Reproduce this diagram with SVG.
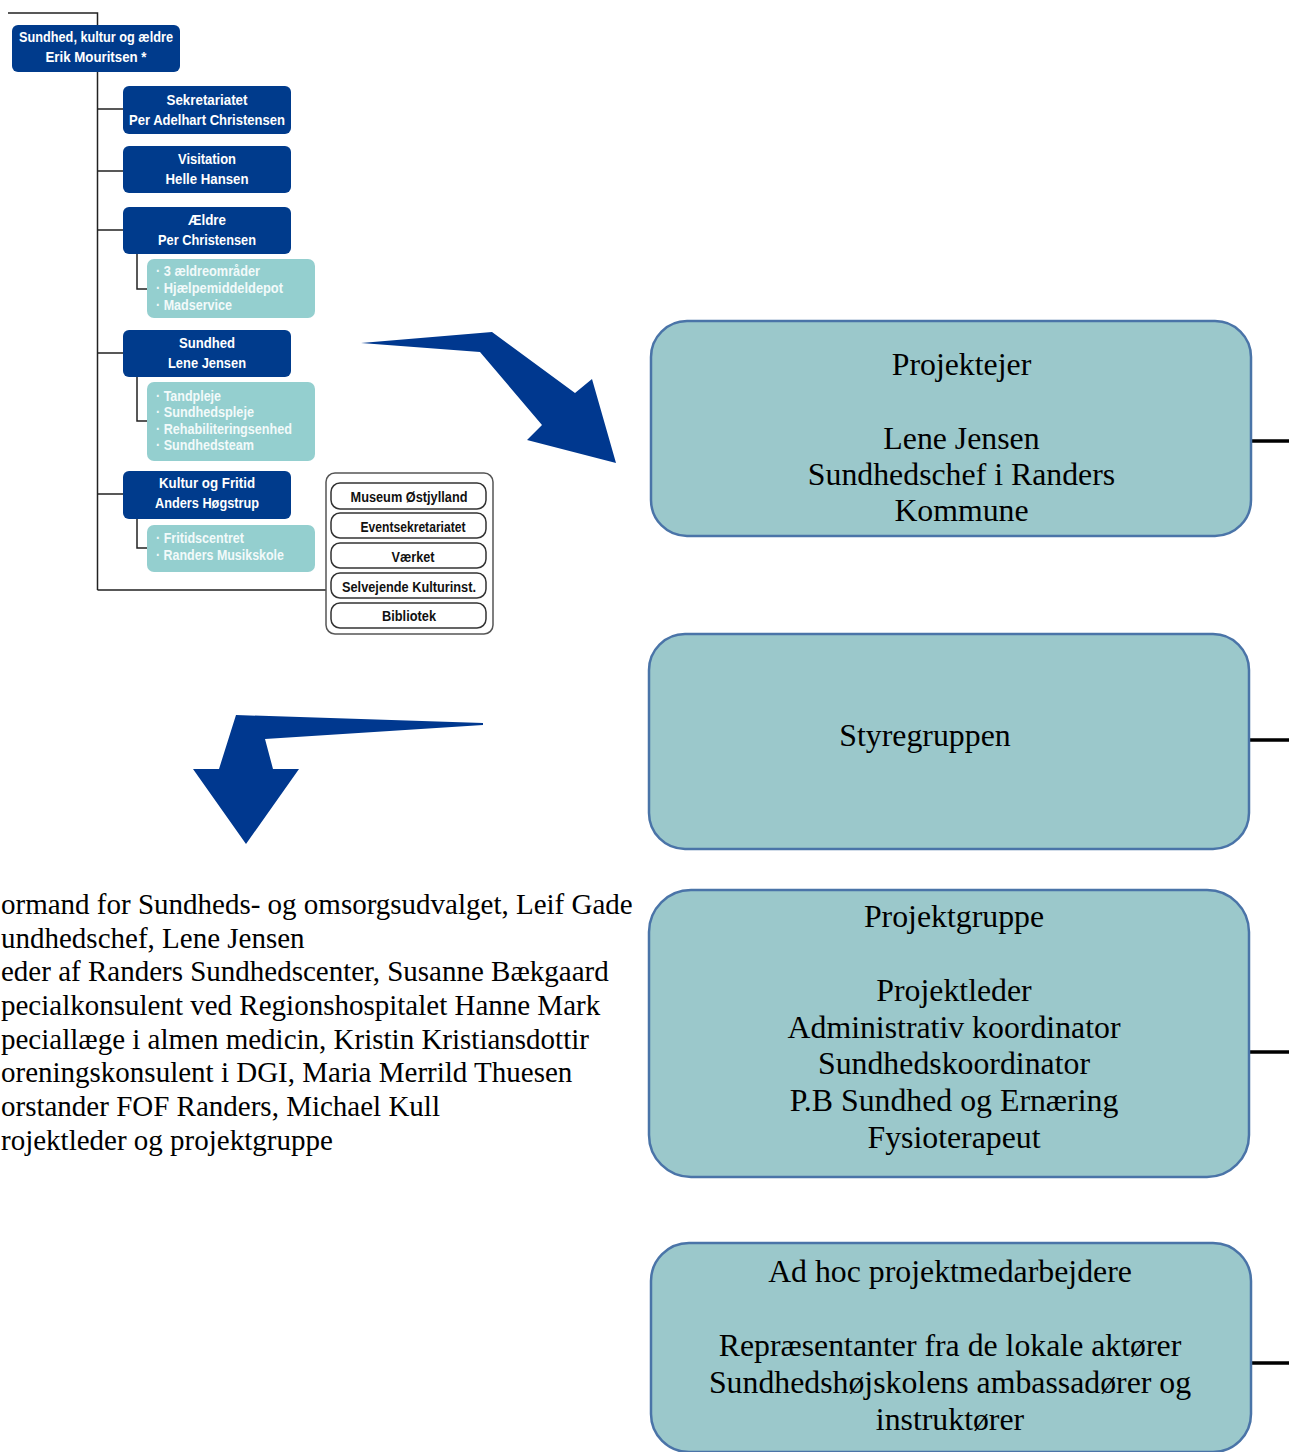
<svg xmlns="http://www.w3.org/2000/svg" width="1289" height="1452" viewBox="0 0 1289 1452">
<style>
.dk{fill:#003B8C}
.lt{fill:#94CFCF}
.wt{font-family:"Liberation Sans",Arial,sans-serif;font-weight:bold;font-size:15px;fill:#fff;text-anchor:middle}
.st{font-family:"Liberation Sans",Arial,sans-serif;font-weight:bold;font-size:14.5px;fill:#F2FAFA}
.bx{fill:#fff;stroke:#333;stroke-width:1.5}
.outer{fill:#fff;stroke:#555;stroke-width:1.5}
.bt{font-family:"Liberation Sans",Arial,sans-serif;font-weight:bold;font-size:14.5px;fill:#111;text-anchor:middle}
.ln{stroke:#222;stroke-width:1.5;fill:none}
.big{fill:#9BC8CB;stroke:#4A74A8;stroke-width:2.5}
.sr{font-family:"Liberation Serif","Times New Roman",serif;font-size:31.8px;fill:#000;text-anchor:middle}
.lst{font-family:"Liberation Serif","Times New Roman",serif;font-size:29px;fill:#000}
.conn{stroke:#000;stroke-width:3.5}
.arr{fill:#00388F}
</style>
<rect width="1289" height="1452" fill="#fff"/>

<g id="connectors">
  <path class="ln" d="M8 13H97.5V590M97.5 109H123M97.5 171H123M97.5 230H123M97.5 353H123M97.5 494H123M97.5 590H327"/>
  <path class="ln" d="M137 254V289H147M137 377V421H147M137 519V548H147"/>
  <path class="conn" d="M1251 441H1289M1249 740H1289M1249 1052H1289M1251 1363H1289"/>
</g>

<g id="n-top"><rect class="dk" x="12" y="25" width="168" height="47" rx="6"/>
<text class="wt" x="96" y="42" textLength="154" lengthAdjust="spacingAndGlyphs">Sundhed, kultur og ældre</text>
<text class="wt" x="96" y="62" textLength="101" lengthAdjust="spacingAndGlyphs">Erik Mouritsen *</text></g>

<g id="n-sek"><rect class="dk" x="123" y="86" width="168" height="48" rx="6"/>
<text class="wt" x="207" y="105" textLength="81" lengthAdjust="spacingAndGlyphs">Sekretariatet</text>
<text class="wt" x="207" y="125" textLength="156" lengthAdjust="spacingAndGlyphs">Per Adelhart Christensen</text></g>

<g id="n-vis"><rect class="dk" x="123" y="146" width="168" height="47" rx="6"/>
<text class="wt" x="207" y="164" textLength="58" lengthAdjust="spacingAndGlyphs">Visitation</text>
<text class="wt" x="207" y="184" textLength="83" lengthAdjust="spacingAndGlyphs">Helle Hansen</text></g>

<g id="n-aeldre"><rect class="dk" x="123" y="207" width="168" height="47" rx="6"/>
<text class="wt" x="207" y="225" textLength="38" lengthAdjust="spacingAndGlyphs">Ældre</text>
<text class="wt" x="207" y="245" textLength="98" lengthAdjust="spacingAndGlyphs">Per Christensen</text></g>

<g id="n-aeldre-sub"><rect class="lt" x="147" y="259" width="168" height="59" rx="7"/>
<text class="st" x="156" y="276" textLength="104" lengthAdjust="spacingAndGlyphs">· 3 ældreområder</text>
<text class="st" x="156" y="293" textLength="127" lengthAdjust="spacingAndGlyphs">· Hjælpemiddeldepot</text>
<text class="st" x="156" y="310" textLength="76" lengthAdjust="spacingAndGlyphs">· Madservice</text></g>

<g id="n-sundhed"><rect class="dk" x="123" y="330" width="168" height="47" rx="6"/>
<text class="wt" x="207" y="348" textLength="56" lengthAdjust="spacingAndGlyphs">Sundhed</text>
<text class="wt" x="207" y="368" textLength="78" lengthAdjust="spacingAndGlyphs">Lene Jensen</text></g>

<g id="n-sundhed-sub"><rect class="lt" x="147" y="382" width="168" height="79" rx="7"/>
<text class="st" x="156" y="401" textLength="65" lengthAdjust="spacingAndGlyphs">· Tandpleje</text>
<text class="st" x="156" y="417" textLength="98" lengthAdjust="spacingAndGlyphs">· Sundhedspleje</text>
<text class="st" x="156" y="434" textLength="136" lengthAdjust="spacingAndGlyphs">· Rehabiliteringsenhed</text>
<text class="st" x="156" y="450" textLength="98" lengthAdjust="spacingAndGlyphs">· Sundhedsteam</text></g>

<g id="n-kultur"><rect class="dk" x="123" y="471" width="168" height="48" rx="6"/>
<text class="wt" x="207" y="488" textLength="96" lengthAdjust="spacingAndGlyphs">Kultur og Fritid</text>
<text class="wt" x="207" y="508" textLength="104" lengthAdjust="spacingAndGlyphs">Anders Høgstrup</text></g>

<g id="n-kultur-sub"><rect class="lt" x="147" y="525" width="168" height="47" rx="7"/>
<text class="st" x="156" y="543" textLength="88" lengthAdjust="spacingAndGlyphs">· Fritidscentret</text>
<text class="st" x="156" y="560" textLength="128" lengthAdjust="spacingAndGlyphs">· Randers Musikskole</text></g>

<g id="n-institutions">
<rect class="outer" x="326" y="473" width="167" height="161" rx="9"/>
<rect class="bx" x="331" y="483" width="155" height="26" rx="9"/>
<text class="bt" x="409" y="502" textLength="117" lengthAdjust="spacingAndGlyphs">Museum Østjylland</text>
<rect class="bx" x="331" y="513" width="155" height="25" rx="9"/>
<text class="bt" x="413" y="532" textLength="105" lengthAdjust="spacingAndGlyphs">Eventsekretariatet</text>
<rect class="bx" x="331" y="543" width="155" height="25" rx="9"/>
<text class="bt" x="413" y="562" textLength="43" lengthAdjust="spacingAndGlyphs">Værket</text>
<rect class="bx" x="331" y="573" width="155" height="25" rx="9"/>
<text class="bt" x="409" y="592" textLength="134" lengthAdjust="spacingAndGlyphs">Selvejende Kulturinst.</text>
<rect class="bx" x="331" y="603" width="155" height="25" rx="9"/>
<text class="bt" x="409" y="621" textLength="54" lengthAdjust="spacingAndGlyphs">Bibliotek</text>
</g>

<g id="arrow-right"><polygon class="arr" points="361,343 492,332 575,393 592,379 616,463 527,440 542,425 480,352"/></g>
<g id="arrow-down"><polygon class="arr" points="483,723 236,715 219,769 193,769 246,844 299,769 273,769 265,739 483,725"/></g>

<g id="n-projektejer"><rect class="big" x="651" y="321" width="600" height="215" rx="36"/>
<text class="sr" x="961.5" y="375">Projektejer</text>
<text class="sr" x="961.5" y="449">Lene Jensen</text>
<text class="sr" x="961.5" y="485">Sundhedschef i Randers</text>
<text class="sr" x="961.5" y="521">Kommune</text></g>

<g id="n-styregruppen"><rect class="big" x="649" y="634" width="600" height="215" rx="36"/>
<text class="sr" x="925" y="746">Styregruppen</text></g>

<g id="n-projektgruppe"><rect class="big" x="649" y="890" width="600" height="287" rx="42"/>
<text class="sr" x="954" y="927">Projektgruppe</text>
<text class="sr" x="954" y="1001">Projektleder</text>
<text class="sr" x="954" y="1038">Administrativ koordinator</text>
<text class="sr" x="954" y="1074">Sundhedskoordinator</text>
<text class="sr" x="954" y="1111">P.B Sundhed og Ernæring</text>
<text class="sr" x="954" y="1148">Fysioterapeut</text></g>

<g id="n-adhoc"><rect class="big" x="651" y="1243" width="600" height="209" rx="38"/>
<text class="sr" x="950" y="1282">Ad hoc projektmedarbejdere</text>
<text class="sr" x="950" y="1356">Repræsentanter fra de lokale aktører</text>
<text class="sr" x="950" y="1393">Sundhedshøjskolens ambassadører og</text>
<text class="sr" x="950" y="1430">instruktører</text></g>

<g id="styregruppe-list">
<text class="lst" x="1" y="914">ormand for Sundheds- og omsorgsudvalget, Leif Gade</text>
<text class="lst" x="1" y="948">undhedschef, Lene Jensen</text>
<text class="lst" x="1" y="981">eder af Randers Sundhedscenter, Susanne Bækgaard</text>
<text class="lst" x="1" y="1015">pecialkonsulent ved Regionshospitalet Hanne Mark</text>
<text class="lst" x="1" y="1049">peciallæge i almen medicin, Kristin Kristiansdottir</text>
<text class="lst" x="1" y="1082">oreningskonsulent i DGI, Maria Merrild Thuesen</text>
<text class="lst" x="1" y="1116">orstander FOF Randers, Michael Kull</text>
<text class="lst" x="1" y="1150">rojektleder og projektgruppe</text>
</g>
</svg>
